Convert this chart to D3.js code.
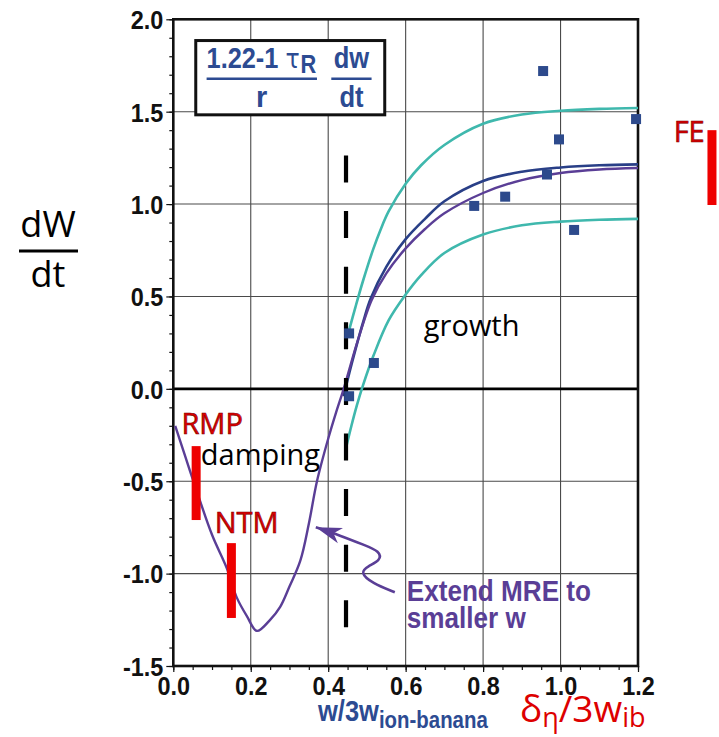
<!DOCTYPE html>
<html><head><meta charset="utf-8">
<script src="https://cdn.jsdelivr.net/npm/d3@7"></script>
<style>
html,body{margin:0;padding:0;background:#fff;}
svg{display:block;}
</style></head>
<body>
<svg id="chart" width="719" height="737"></svg>
<script>
// ---------- data ----------
const xTickValues = [0.0, 0.2, 0.4, 0.6, 0.8, 1.0, 1.2];
const yTickValues = [-1.5, -1.0, -0.5, 0.0, 0.5, 1.0, 1.5, 2.0];
const xTickLabels = ["0.0", "0.2", "0.4", "0.6", "0.8", "1.0", "1.2"];
const yTickLabels = ["-1.5", "-1.0", "-0.5", "0.0", "0.5", "1.0", "1.5", "2.0"];

// experimental points
const pointsX = [0.454, 0.454, 0.518, 0.777, 0.857, 0.955, 0.965, 0.996, 1.035, 1.195];
const pointsY = [0.30, -0.04, 0.14, 0.99, 1.04, 1.72, 1.16, 1.35, 0.86, 1.46];

// model curve (purple) extended to small w
const mreX = [0.005, 0.03, 0.052, 0.1, 0.138, 0.164, 0.19, 0.216, 0.25, 0.276, 0.3, 0.328, 0.35, 0.371, 0.4, 0.42, 0.44, 0.474, 0.512, 0.55, 0.6, 0.65, 0.7, 0.8, 0.9, 1.0, 1.1, 1.2];
const mreY = [-0.2, -0.36, -0.5, -0.79, -0.97, -1.13, -1.23, -1.31, -1.25, -1.18, -1.07, -0.93, -0.73, -0.5, -0.27, -0.13, 0.0, 0.245, 0.48, 0.625, 0.76, 0.865, 0.95, 1.06, 1.13, 1.168, 1.187, 1.195];

// navy curve
const navyX = [0.44, 0.455, 0.47, 0.49, 0.51, 0.55, 0.6, 0.65, 0.7, 0.8, 0.9, 1.0, 1.1, 1.2];
const navyY = [-0.04, 0.09, 0.21, 0.36, 0.49, 0.66, 0.81, 0.92, 1.015, 1.125, 1.175, 1.198, 1.21, 1.215];

// teal upper bound
const tealHiX = [0.453, 0.47, 0.49, 0.517, 0.535, 0.556, 0.6, 0.64, 0.7, 0.8, 0.9, 1.0, 1.1, 1.2];
const tealHiY = [0.31, 0.44, 0.585, 0.76, 0.86, 0.96, 1.11, 1.21, 1.32, 1.435, 1.485, 1.505, 1.515, 1.52];

// teal lower bound
const tealLoX = [0.446, 0.46, 0.474, 0.49, 0.517, 0.556, 0.6, 0.64, 0.7, 0.8, 0.9, 1.0, 1.1, 1.2];
const tealLoY = [-0.32, -0.2, -0.09, 0.02, 0.18, 0.37, 0.51, 0.615, 0.735, 0.835, 0.885, 0.905, 0.915, 0.92];

// dashed threshold line
const thresholdX = 0.446;
const thresholdY = [1.263, -1.425];

// red range bars
const barLabels = ["RMP", "NTM", "FE"];
const barX = [0.059, 0.15, 1.391];
const barTop = [-0.31, -0.835, 1.40];
const barBottom = [-0.71, -1.24, 0.995];

// annotation arrow path (data units), tail -> tip
const arrowX = [0.572, 0.513, 0.482, 0.502, 0.536, 0.533, 0.495, 0.430, 0.368];
const arrowY = [-1.101, -1.052, -0.993, -0.960, -0.928, -0.879, -0.847, -0.793, -0.749];

// ---------- layout ----------
const svg = d3.select("#chart");
const L = 173.3, R = 638, T = 19.3, B = 666;
const x = d3.scaleLinear().domain([0, 1.2]).range([L, R]);
const y = d3.scaleLinear().domain([-1.5, 2.0]).range([B, T]);

const bold = "'Liberation Sans',Arial,Helvetica,sans-serif";
const humanist = "'Open Sans','Noto Sans',sans-serif";
const BLUE = "#2c4b92", PURPLE = "#5a3e96", NAVY = "#293f87", TEAL = "#3fb8ad", RED = "#ee0000", SQ = "#2d4a8c";

function condense(sel, f) {
  sel.each(function () {
    const len = this.getComputedTextLength();
    d3.select(this).attr("textLength", len * f).attr("lengthAdjust", "spacingAndGlyphs");
  });
}

svg.append("rect").attr("width", 719).attr("height", 737).attr("fill", "#fff");

// grid
const g = svg.append("g");
g.selectAll(".vg").data(xTickValues.slice(1, -1)).join("line")
  .attr("x1", d => x(d)).attr("x2", d => x(d)).attr("y1", T).attr("y2", B)
  .attr("stroke", "#4a4a4a").attr("stroke-width", 1.1);
g.selectAll(".hg").data(yTickValues.slice(1, -1).filter(d => d !== 0)).join("line")
  .attr("x1", L).attr("x2", R).attr("y1", d => y(d)).attr("y2", d => y(d))
  .attr("stroke", "#4a4a4a").attr("stroke-width", 1.1);
g.append("line").attr("x1", L).attr("x2", R).attr("y1", y(0)).attr("y2", y(0))
  .attr("stroke", "#000").attr("stroke-width", 2.6);

// axes
const yMinor = d3.range(-1.5, 2.0001, 0.1).map(v => +v.toFixed(2));
const xMinor = d3.range(0, 1.2001, 0.05).map(v => +v.toFixed(2));
const yAxisMinor = d3.axisLeft(y).tickValues(yMinor).tickSize(4).tickFormat("");
const yAxisMajor = d3.axisLeft(y).tickValues(yTickValues).tickSize(7).tickPadding(3)
  .tickFormat((d, i) => yTickLabels[i]);
const xAxisMinor = d3.axisBottom(x).tickValues(xMinor).tickSize(4).tickFormat("");
const xAxisMajor = d3.axisBottom(x).tickValues(xTickValues).tickSize(6).tickPadding(4)
  .tickFormat((d, i) => xTickLabels[i]);

function styleAxis(sel) {
  sel.select(".domain").remove();
  sel.selectAll("line").attr("stroke", "#111").attr("stroke-width", 1.2);
  sel.selectAll("text").attr("font-family", bold).attr("font-weight", "bold")
    .attr("font-size", 26).attr("fill", "#111");
}
svg.append("g").attr("transform", `translate(${L},0)`).call(yAxisMinor).call(styleAxis);
const ya = svg.append("g").attr("transform", `translate(${L},0)`).call(yAxisMajor).call(styleAxis);
ya.selectAll("text").attr("dy", "0.36em").call(condense, 0.9);
svg.append("g").attr("transform", `translate(0,${B})`).call(xAxisMinor).call(styleAxis);
const xa = svg.append("g").attr("transform", `translate(0,${B})`).call(xAxisMajor).call(styleAxis);
xa.selectAll("text").attr("dy", "0.72em").call(condense, 0.9);

// frame
svg.append("rect").attr("x", L).attr("y", T).attr("width", R - L).attr("height", B - T)
  .attr("fill", "none").attr("stroke", "#111").attr("stroke-width", 2.6);

// curves
const line = d3.line().x(d => x(d[0])).y(d => y(d[1])).curve(d3.curveCatmullRom.alpha(0.5));
function drawCurve(xs, ys, color, w) {
  svg.append("path").datum(xs.map((v, i) => [v, ys[i]]))
    .attr("d", line).attr("fill", "none").attr("stroke", color).attr("stroke-width", w)
    .attr("stroke-linejoin", "round");
}
drawCurve(tealHiX, tealHiY, TEAL, 2.6);
drawCurve(tealLoX, tealLoY, TEAL, 2.6);
drawCurve(navyX, navyY, NAVY, 2.6);
drawCurve(mreX, mreY, PURPLE, 2.4);

// dashed threshold
svg.append("line").attr("x1", x(thresholdX)).attr("x2", x(thresholdX))
  .attr("y1", y(thresholdY[0])).attr("y2", y(thresholdY[1]))
  .attr("stroke", "#000").attr("stroke-width", 4.2).attr("stroke-dasharray", "27,28.6");

// data points
svg.selectAll(".pt").data(pointsX.map((v, i) => [v, pointsY[i]])).join("rect")
  .attr("x", d => x(d[0]) - 5).attr("y", d => y(d[1]) - 5)
  .attr("width", 10).attr("height", 10).attr("fill", SQ);

// red range bars
svg.selectAll(".bar").data(barX.map((v, i) => ({x: v, t: barTop[i], b: barBottom[i]}))).join("rect")
  .attr("x", d => x(d.x) - 4.5).attr("y", d => y(d.t)).attr("width", 9)
  .attr("height", d => y(d.b) - y(d.t)).attr("fill", RED);

function redText(txt, px, py) {
  svg.append("text").attr("x", px).attr("y", py).text(txt)
    .attr("font-family", humanist).attr("font-size", 29).attr("fill", "#dd0000")
    .attr("stroke", "#7a0000").attr("stroke-width", 0.6);
}
redText(barLabels[0], x(0.021), y(-0.245));
redText(barLabels[1], x(0.107), y(-0.78));
redText(barLabels[2], x(1.292), y(1.335));

// text annotations
svg.append("text").attr("x", x(0.071)).attr("y", y(-0.41)).text("damping")
  .attr("font-family", humanist).attr("font-size", 29).attr("fill", "#000");
svg.append("text").attr("x", x(0.647)).attr("y", y(0.285)).text("growth")
  .attr("font-family", humanist).attr("font-size", 29).attr("fill", "#000");

const ext1 = svg.append("text").attr("font-family", bold).attr("font-weight", "bold")
  .attr("font-size", 29).attr("fill", PURPLE).attr("x", x(0.603)).attr("y", y(-1.146)).text("Extend MRE to");
const ext2 = svg.append("text").attr("font-family", bold).attr("font-weight", "bold")
  .attr("font-size", 29).attr("fill", PURPLE).attr("x", x(0.603)).attr("y", y(-1.293)).text("smaller w");
ext1.call(condense, 0.9); ext2.call(condense, 0.9);

// arrow
const arrowPts = arrowX.map((v, i) => [x(v), y(arrowY[i])]);
svg.append("path").attr("d", d3.line().curve(d3.curveBasis)(arrowPts))
  .attr("fill", "none").attr("stroke", PURPLE).attr("stroke-width", 2.6);
{
  const tip = arrowPts[arrowPts.length - 1], prev = arrowPts[arrowPts.length - 2];
  const ang = Math.atan2(tip[1] - prev[1], tip[0] - prev[0]);
  const len = 26, half = 8;
  const bx = tip[0] - len * Math.cos(ang), by = tip[1] - len * Math.sin(ang);
  const nx = -Math.sin(ang), ny = Math.cos(ang);
  const notch = [tip[0] - 0.72 * len * Math.cos(ang), tip[1] - 0.72 * len * Math.sin(ang)];
  svg.append("path").attr("d", `M${tip[0]},${tip[1]}L${bx + nx * half},${by + ny * half}L${notch[0]},${notch[1]}L${bx - nx * half},${by - ny * half}Z`)
    .attr("fill", PURPLE);
}

// formula box
const box = svg.append("g");
box.append("rect").attr("x", x(0.058)).attr("y", y(1.885)).attr("width", x(0.546) - x(0.058))
  .attr("height", y(1.483) - y(1.885)).attr("fill", "#fff").attr("stroke", "#111").attr("stroke-width", 3);
const t1 = box.append("text").attr("font-family", bold).attr("font-weight", "bold")
  .attr("font-size", 29).attr("fill", BLUE).attr("x", x(0.086)).attr("y", y(1.734));
t1.append("tspan").text("1.22-1 ");
t1.append("tspan").attr("font-family", "'DejaVu Sans',sans-serif").attr("font-weight", "normal").attr("font-size", 27).text("τ");
t1.append("tspan").attr("dy", 5).attr("dx", 1).attr("font-size", 25).text("R");
t1.call(condense, 0.88);
box.append("line").attr("x1", x(0.086)).attr("x2", x(0.371)).attr("y1", y(1.678)).attr("y2", y(1.678))
  .attr("stroke", BLUE).attr("stroke-width", 2.5);
box.append("text").attr("font-family", bold).attr("font-weight", "bold").attr("font-size", 29)
  .attr("fill", BLUE).attr("text-anchor", "middle").attr("x", x(0.228)).attr("y", y(1.524)).text("r");
box.append("line").attr("x1", x(0.408)).attr("x2", x(0.512)).attr("y1", y(1.678)).attr("y2", y(1.678))
  .attr("stroke", BLUE).attr("stroke-width", 2.5);
const dw = box.append("text").attr("font-family", bold).attr("font-weight", "bold").attr("font-size", 29)
  .attr("fill", BLUE).attr("text-anchor", "middle").attr("x", x(0.46)).attr("y", y(1.734)).text("dw");
const dtt = box.append("text").attr("font-family", bold).attr("font-weight", "bold").attr("font-size", 29)
  .attr("fill", BLUE).attr("text-anchor", "middle").attr("x", x(0.46)).attr("y", y(1.524)).text("dt");
dw.call(condense, 0.88); dtt.call(condense, 0.88);

// y axis label dW/dt
svg.append("text").attr("x", 48).attr("y", 237).attr("text-anchor", "middle")
  .attr("font-family", humanist).attr("font-size", 36).attr("fill", "#000").text("dW");
svg.append("line").attr("x1", 19).attr("x2", 78).attr("y1", 251).attr("y2", 251)
  .attr("stroke", "#000").attr("stroke-width", 3);
svg.append("text").attr("x", 48).attr("y", 287).attr("text-anchor", "middle")
  .attr("font-family", humanist).attr("font-size", 36).attr("fill", "#000").text("dt");

// x axis labels
const xl = svg.append("text").attr("x", 318).attr("y", 721).attr("font-family", bold)
  .attr("font-weight", "bold").attr("fill", BLUE).attr("font-size", 30);
xl.append("tspan").text("w/3w");
xl.append("tspan").attr("dy", 7).attr("font-size", 24).text("ion-banana");
xl.call(condense, 0.85);

const xl2 = svg.append("text").attr("x", 520).attr("y", 722).attr("font-family", humanist)
  .attr("fill", "#dd0000").attr("font-size", 37);
xl2.append("tspan").text("δ");
xl2.append("tspan").attr("dy", 5).attr("font-size", 27).text("η");
xl2.append("tspan").attr("dy", -5).text("/3w");
xl2.append("tspan").attr("dy", 5).attr("font-size", 27).text("ib");
</script>
</body></html>
